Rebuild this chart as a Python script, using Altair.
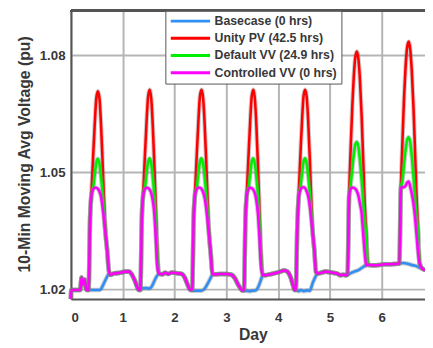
import altair as alt
import pandas as pd

SERIES = ["Basecase (0 hrs)", "Unity PV (42.5 hrs)", "Default VV (24.9 hrs)", "Controlled VV (0 hrs)"]
COLORS = ["#2f8ff5", "#ff0000", "#00ee00", "#ff00ff"]

# night-time values, shared by all four cases (day, pu)
night_t = [0.000, 0.004, 0.18, 0.205, 0.225, 0.26, 0.29, 0.31,
           0.76, 0.82, 0.95, 1.05, 1.12, 1.17, 1.23, 1.29, 1.31,
           1.76, 1.82, 1.88, 1.95, 2.05, 2.14, 2.20, 2.26, 2.31,
           2.76, 2.88, 3.00, 3.10, 3.16, 3.23, 3.29, 3.31,
           3.76, 3.87, 4.00, 4.12, 4.18, 4.24, 4.29, 4.32,
           4.77, 4.92, 5.05, 5.14, 5.20, 5.26, 5.31,
           5.76, 5.85, 5.95, 6.05, 6.18, 6.31,
           6.78, 6.84]
night_v = [1.0176, 1.0199, 1.0199, 1.0231, 1.0213, 1.0226, 1.0204, 1.0199,
           1.0238, 1.0241, 1.0243, 1.0246, 1.0246, 1.0240, 1.0224, 1.0203, 1.0199,
           1.0239, 1.0243, 1.0240, 1.0244, 1.0242, 1.0240, 1.0230, 1.0210, 1.0199,
           1.0239, 1.0240, 1.0240, 1.0238, 1.0230, 1.0212, 1.0200, 1.0198,
           1.0237, 1.0240, 1.0244, 1.0249, 1.0246, 1.0232, 1.0210, 1.0199,
           1.0241, 1.0246, 1.0243, 1.0241, 1.0237, 1.0238, 1.0237,
           1.0263, 1.0262, 1.0263, 1.0265, 1.0265, 1.0266,
           1.0254, 1.0250]

# daytime samples (fraction of each day)
arch_off = [0.34, 0.37, 0.40, 0.43, 0.46, 0.49, 0.52, 0.55, 0.58, 0.61, 0.64, 0.67, 0.70, 0.73]

controlled_day = [
    [1.0199, 1.0385, 1.0445, 1.0457, 1.0461, 1.0461, 1.0458, 1.0451, 1.0438, 1.0412, 1.0378, 1.0340, 1.0300, 1.0250],
    [1.0199, 1.0390, 1.0446, 1.0458, 1.0461, 1.0460, 1.0456, 1.0447, 1.0428, 1.0395, 1.0330, 1.0255, 1.0241, 1.0240],
    [1.0199, 1.0388, 1.0446, 1.0458, 1.0461, 1.0461, 1.0458, 1.0450, 1.0436, 1.0410, 1.0375, 1.0335, 1.0290, 1.0240],
    [1.0198, 1.0386, 1.0446, 1.0458, 1.0461, 1.0460, 1.0456, 1.0447, 1.0428, 1.0395, 1.0335, 1.0262, 1.0238, 1.0237],
    [1.0199, 1.0360, 1.0440, 1.0456, 1.0461, 1.0462, 1.0460, 1.0452, 1.0440, 1.0415, 1.0380, 1.0342, 1.0300, 1.0245],
    [1.0238, 1.0440, 1.0458, 1.0461, 1.0461, 1.0458, 1.0452, 1.0440, 1.0420, 1.0397, 1.0347, 1.0296, 1.0262, 1.0264],
    [1.0267, 1.0462, 1.0462, 1.0462, 1.0466, 1.0474, 1.0477, 1.0463, 1.0446, 1.0422, 1.0389, 1.0343, 1.0298, 1.0268],
]
unity_day = [
    [1.0199, 1.0385, 1.0460, 1.0545, 1.0625, 1.0690, 1.0708, 1.0690, 1.0625, 1.0530, 1.0425, 1.0340, 1.0300, 1.0250],
    [1.0199, 1.0390, 1.0462, 1.0548, 1.0630, 1.0695, 1.0712, 1.0690, 1.0620, 1.0520, 1.0400, 1.0290, 1.0241, 1.0240],
    [1.0199, 1.0388, 1.0462, 1.0548, 1.0630, 1.0695, 1.0712, 1.0692, 1.0628, 1.0532, 1.0425, 1.0335, 1.0290, 1.0240],
    [1.0198, 1.0386, 1.0462, 1.0548, 1.0630, 1.0695, 1.0712, 1.0690, 1.0620, 1.0520, 1.0400, 1.0290, 1.0238, 1.0237],
    [1.0199, 1.0360, 1.0455, 1.0545, 1.0630, 1.0695, 1.0712, 1.0695, 1.0632, 1.0538, 1.0430, 1.0342, 1.0300, 1.0245],
    [1.0238, 1.0440, 1.0560, 1.0665, 1.0745, 1.0795, 1.0810, 1.0790, 1.0735, 1.0650, 1.0540, 1.0425, 1.0345, 1.0264],
    [1.0267, 1.0462, 1.0580, 1.0690, 1.0770, 1.0820, 1.0835, 1.0815, 1.0760, 1.0675, 1.0565, 1.0445, 1.0355, 1.0268],
]
default_day = [
    [1.0199, 1.0385, 1.0445, 1.0462, 1.0495, 1.0525, 1.0535, 1.0522, 1.0490, 1.0450, 1.0395, 1.0340, 1.0300, 1.0250],
    [1.0199, 1.0390, 1.0446, 1.0463, 1.0497, 1.0527, 1.0536, 1.0522, 1.0488, 1.0442, 1.0375, 1.0280, 1.0241, 1.0240],
    [1.0199, 1.0388, 1.0446, 1.0463, 1.0497, 1.0527, 1.0536, 1.0523, 1.0490, 1.0448, 1.0392, 1.0335, 1.0290, 1.0240],
    [1.0198, 1.0386, 1.0446, 1.0463, 1.0497, 1.0527, 1.0536, 1.0522, 1.0488, 1.0442, 1.0375, 1.0280, 1.0238, 1.0237],
    [1.0199, 1.0360, 1.0440, 1.0462, 1.0497, 1.0527, 1.0536, 1.0524, 1.0492, 1.0450, 1.0398, 1.0342, 1.0300, 1.0245],
    [1.0238, 1.0440, 1.0468, 1.0508, 1.0545, 1.0572, 1.0578, 1.0565, 1.0530, 1.0485, 1.0430, 1.0380, 1.0340, 1.0264],
    [1.0267, 1.0462, 1.0480, 1.0520, 1.0558, 1.0583, 1.0590, 1.0577, 1.0542, 1.0495, 1.0440, 1.0390, 1.0350, 1.0268],
]

# basecase daytime (day, pu)
base_day_t = [0.34, 0.56, 0.60, 0.65, 0.69, 0.73,
              1.34, 1.36, 1.45, 1.51, 1.56, 1.61, 1.65, 1.70,
              2.34, 2.37, 2.52, 2.59, 2.65, 2.69, 2.73,
              3.34, 3.44, 3.50, 3.57, 3.62, 3.66, 3.70,
              4.34, 4.40, 4.44, 4.49, 4.56, 4.61, 4.67, 4.71, 4.74,
              5.34, 5.40, 5.47, 5.55, 5.62, 5.69, 5.73,
              6.34, 6.42, 6.50, 6.58, 6.67, 6.73]
base_day_v = [1.0199, 1.0199, 1.0206, 1.0220, 1.0231, 1.0240,
              1.0199, 1.0203, 1.0204, 1.0203, 1.0208, 1.0222, 1.0233, 1.0240,
              1.0199, 1.0197, 1.0197, 1.0204, 1.0218, 1.0228, 1.0238,
              1.0198, 1.0196, 1.0197, 1.0198, 1.0208, 1.0222, 1.0236,
              1.0199, 1.0196, 1.0199, 1.0196, 1.0198, 1.0197, 1.0218, 1.0230, 1.0238,
              1.0238, 1.0242, 1.0246, 1.0250, 1.0256, 1.0262, 1.0264,
              1.0267, 1.0268, 1.0266, 1.0263, 1.0260, 1.0256]

arch_t = [k + o for k in range(7) for o in arch_off]


def flat(days):
    return [v for day in days for v in day]


def build(name, ts, vs):
    rows = [{"t": t, "v": v, "series": name} for t, v in zip(night_t, night_v)]
    rows += [{"t": t, "v": v, "series": name} for t, v in zip(ts, vs)]
    return sorted(rows, key=lambda r: r["t"])


rows = []
rows += build(SERIES[0], base_day_t, base_day_v)
rows += build(SERIES[1], arch_t, flat(unity_day))
rows += build(SERIES[2], arch_t, flat(default_day))
rows += build(SERIES[3], arch_t, flat(controlled_day))
df = pd.DataFrame(rows)

W, H = 360, 293
FONT = "Liberation Sans"
TXT = "#383838"

x_enc = alt.X("t:Q", scale=alt.Scale(domain=[0, 6.835], nice=False, zero=False),
              axis=alt.Axis(values=[0, 1, 2, 3, 4, 5, 6], format="d", title="Day",
                            grid=True, gridColor="#b5b5b5", gridWidth=2,
                            domainColor="#555555", domainWidth=2, ticks=False, tickSize=0,
                            labelPadding=12, labelFont=FONT, labelFontSize=13.5,
                            labelFontWeight="bold", labelColor=TXT,
                            titleFont=FONT, titleFontSize=16, titleFontWeight="bold",
                            titleColor=TXT, titleX=185, titleY=41,
                            titleBaseline="alphabetic", titleAlign="center"))
y_enc = alt.Y("v:Q", scale=alt.Scale(domain=[1.0176, 1.0914], nice=False, zero=False),
              axis=alt.Axis(values=[1.02, 1.05, 1.08], format=".2f",
                            title="10-Min Moving Avg Voltage (pu)",
                            grid=True, gridColor="#b5b5b5", gridWidth=2,
                            domainColor="#555555", domainWidth=2, ticks=False, tickSize=0,
                            labelPadding=6, labelFont=FONT, labelFontSize=13.5,
                            labelFontWeight="bold", labelColor=TXT,
                            titleFont=FONT, titleFontSize=16, titleFontWeight="bold",
                            titleColor=TXT, titleAngle=270, titleX=-47, titleY=145.5,
                            titleAlign="center", titleBaseline="middle"))

base = alt.Chart(df)
layers = []
for name in SERIES:
    sub = base.transform_filter(alt.datum.series == name)
    layers.append(sub.mark_line(interpolate="monotone", strokeWidth=4.6, opacity=0.4,
                                color="#808080").encode(x=x_enc, y=y_enc))
    layers.append(sub.mark_line(interpolate="monotone", strokeWidth=2.6).encode(
        x=x_enc, y=y_enc,
        color=alt.Color("series:N", scale=alt.Scale(domain=SERIES, range=COLORS),
                        title=None,
                        legend=alt.Legend(orient="none", legendX=96, legendY=0))))

top_border = alt.Chart(df).mark_rule(color="#555555", strokeWidth=2).encode(
    x=alt.value(0), x2=alt.value(W), y=alt.value(0))

chart = alt.layer(*layers, top_border).properties(
    width=W, height=H,
    autosize=alt.AutoSizeParams(type="none"),
    padding={"left": 64, "top": 0, "right": 0, "bottom": 46},
    background="white",
).configure_view(stroke=None).configure_legend(
    symbolType="M-4,0H4", symbolSize=100, symbolStrokeWidth=3,
    symbolOffset=15, labelOffset=18, rowPadding=4.5, padding=4,
    strokeColor="#555555", fillColor="white", cornerRadius=0,
    labelFont=FONT, labelFontSize=12.5, labelFontWeight="bold", labelColor=TXT,
    labelLimit=300,
)

chart.save("out.html", embed_options={"renderer": "svg", "actions": False})
